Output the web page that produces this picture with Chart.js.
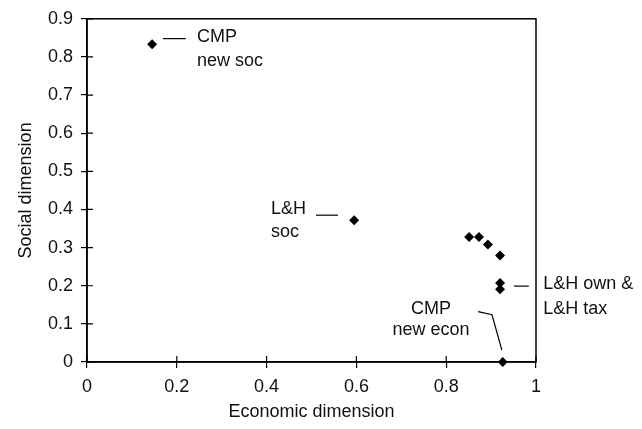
<!DOCTYPE html>
<html>
<head>
<meta charset="utf-8">
<script src="https://cdn.jsdelivr.net/npm/chart.js@4/dist/chart.umd.min.js"></script>
<style>
  body { margin: 0; background: #fff; }
  #wrap { width: 642px; height: 429px; }
</style>
</head>
<body>
<div id="wrap"><canvas id="chart" width="642" height="429"></canvas></div>
<script>
// values
var econ   = [0.145, 0.595, 0.851, 0.873, 0.893, 0.920, 0.920, 0.920, 0.926];
var social = [0.833, 0.372, 0.328, 0.328, 0.308, 0.279, 0.207, 0.191, 0.0];
var xTicks = [0, 0.2, 0.4, 0.6, 0.8, 1];
var yTicks = [0, 0.1, 0.2, 0.3, 0.4, 0.5, 0.6, 0.7, 0.8, 0.9];

var FONT = '"Liberation Sans", Arial, Helvetica, sans-serif';

// label callouts, placed in data units
var notes = [
  { lines: ['CMP', 'new soc'], x: 0.245, y: [0.840, 0.776], align: 'left',
    leader: [[0.169, 0.848], [0.220, 0.848]] },
  { lines: ['L&H', 'soc'], x: 0.410, y: [0.388, 0.328], align: 'left',
    leader: [[0.510, 0.385], [0.559, 0.385]] },
  { lines: ['L&H own &', 'L&H tax'], x: 1.016, y: [0.191, 0.127], align: 'left',
    leader: [[0.951, 0.199], [0.984, 0.199]] },
  { lines: ['CMP', 'new econ'], x: 0.766, y: [0.127, 0.070], align: 'center',
    leader: [[0.871, 0.132], [0.902, 0.124], [0.924, 0.031]] }
];

var data = [];
for (var i = 0; i < econ.length; i++) data.push({ x: econ[i], y: social[i] });

var frame = {
  id: 'frame',
  afterDraw: function(chart) {
    var ctx = chart.ctx, a = chart.chartArea;
    var xs = chart.scales.x, ys = chart.scales.y;
    ctx.save();
    ctx.strokeStyle = '#000';
    ctx.lineWidth = 1.5;
    ctx.strokeRect(a.left, a.top, a.right - a.left, a.bottom - a.top);
    // inner half of the crossing ticks
    ctx.lineWidth = 1.2;
    ctx.beginPath();
    xTicks.forEach(function(v) {
      var px = xs.getPixelForValue(v);
      ctx.moveTo(px, a.bottom); ctx.lineTo(px, a.bottom - 6);
    });
    yTicks.forEach(function(v) {
      var py = ys.getPixelForValue(v);
      ctx.moveTo(a.left, py); ctx.lineTo(a.left + 6, py);
    });
    ctx.stroke();

    ctx.fillStyle = '#111';
    ctx.font = '18px ' + FONT;
    ctx.textBaseline = 'alphabetic';
    notes.forEach(function(n) {
      ctx.textAlign = n.align;
      n.lines.forEach(function(t, k) {
        ctx.fillText(t, xs.getPixelForValue(n.x), ys.getPixelForValue(n.y[k]));
      });
      ctx.beginPath();
      n.leader.forEach(function(p, k) {
        var px = xs.getPixelForValue(p[0]), py = ys.getPixelForValue(p[1]);
        if (k === 0) ctx.moveTo(px, py); else ctx.lineTo(px, py);
      });
      ctx.lineWidth = 1.2;
      ctx.stroke();
    });
    ctx.restore();
  }
};

new Chart(document.getElementById('chart'), {
  type: 'scatter',
  data: {
    datasets: [{
      data: data,
      pointStyle: 'rectRot',
      pointRadius: 5,
      pointHoverRadius: 5,
      backgroundColor: '#000',
      borderColor: '#000',
      borderWidth: 0,
      clip: false
    }]
  },
  options: {
    responsive: false,
    animation: false,
    events: [],
    layout: { padding: { left: 10, right: 106, top: 14, bottom: 6 } },
    plugins: { legend: { display: false }, tooltip: { enabled: false } },
    scales: {
      x: {
        type: 'linear', min: 0, max: 1,
        afterFit: function(s) { s.height = 61; },
        afterBuildTicks: function(s) { s.ticks = xTicks.map(function(v) { return { value: v }; }); },
        grid: { drawOnChartArea: false, drawTicks: true, tickLength: 6, color: '#000', lineWidth: 1.2 },
        border: { display: true, color: '#000', width: 1.5 },
        ticks: {
          color: '#111', padding: 8, maxRotation: 0,
          font: { family: FONT, size: 18 },
          callback: function(v) { return String(+v.toFixed(1)); }
        },
        title: { display: true, text: 'Economic dimension', color: '#111',
                 font: { family: FONT, size: 18 }, padding: { top: 2, bottom: 0 } }
      },
      y: {
        type: 'linear', min: 0, max: 0.9,
        afterFit: function(s) { s.width = 77; },
        afterBuildTicks: function(s) { s.ticks = yTicks.map(function(v) { return { value: v }; }); },
        grid: { drawOnChartArea: false, drawTicks: true, tickLength: 6, color: '#000', lineWidth: 1.2 },
        border: { display: true, color: '#000', width: 1.5 },
        ticks: {
          color: '#111', padding: 8,
          font: { family: FONT, size: 18 },
          callback: function(v) { return String(+v.toFixed(1)); }
        },
        title: { display: true, text: 'Social dimension', color: '#111',
                 font: { family: FONT, size: 18 }, padding: { top: 5, bottom: 0 } }
      }
    }
  },
  plugins: [frame]
});
</script>
</body>
</html>
